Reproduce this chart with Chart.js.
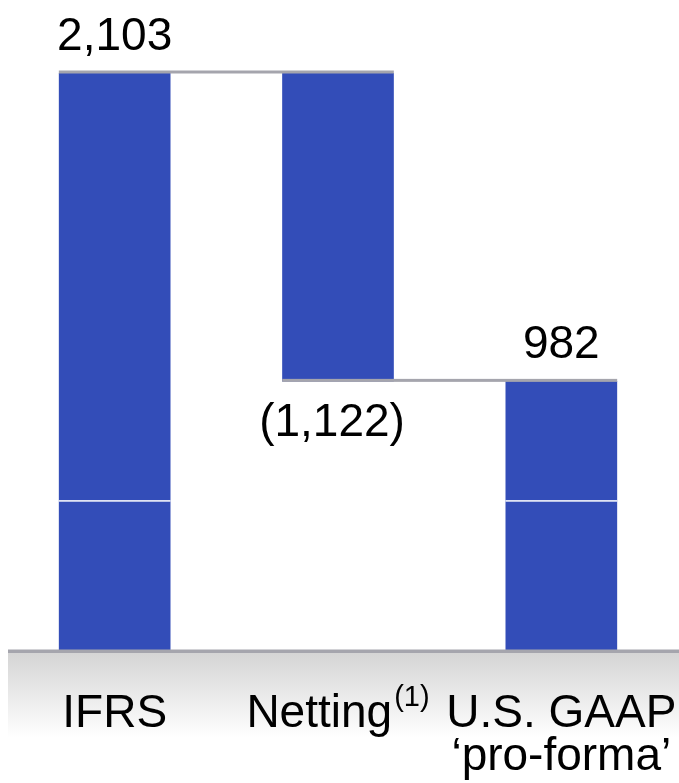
<!DOCTYPE html>
<html>
<head>
<meta charset="utf-8">
<script src="https://cdn.jsdelivr.net/npm/chart.js@4.4.0/dist/chart.umd.min.js"></script>
<style>
  html, body { margin: 0; padding: 0; background: #fff; }
  canvas { display: block; }
</style>
</head>
<body>
<canvas id="waterfall" width="679" height="783"></canvas>
<script>
// data
const categories = ['IFRS', 'Netting', 'U.S. GAAP'];
const categoryNotes = ['', '(1)', ''];
const categorySubLines = ['', '', '\u2018pro-forma\u2019'];
const changes = [2103, -1122, 982];      // last one is the resulting total
const isTotal = [true, false, true];
const valueLabels = ['2,103', '(1,122)', '982'];
const whiteLineValue = 547;

// build floating bars from the running total
const floats = [];
let running = 0;
changes.forEach((v, i) => {
    if (isTotal[i]) {
        floats.push([0, v]);
        running = v;
    } else {
        floats.push([running + v, running]);
        running += v;
    }
});

const BLUE = '#334db8';
const GREY_LINE = '#a5a5ad';
const FONT = '"Liberation Sans", Arial, Helvetica, sans-serif';

const waterfallDecor = {
    id: 'waterfallDecor',
    beforeDatasetsDraw(chart) {
        const ctx = chart.ctx;
        const y = chart.scales.y;
        const base = y.getPixelForValue(0);
        // grey floor band
        const grad = ctx.createLinearGradient(0, base + 2, 0, base + 86);
        grad.addColorStop(0, '#d5d5d5');
        grad.addColorStop(1, '#ffffff');
        ctx.save();
        ctx.fillStyle = grad;
        ctx.fillRect(8, base + 2, chart.width - 8, 84);
        ctx.restore();
    },
    afterDatasetsDraw(chart) {
        const ctx = chart.ctx;
        const y = chart.scales.y;
        const bars = chart.getDatasetMeta(0).data;
        const base = y.getPixelForValue(0);
        ctx.save();

        // thin white line across the bars
        const wy = y.getPixelForValue(whiteLineValue);
        ctx.fillStyle = '#ffffff';
        bars.forEach((b, i) => {
            const lo = Math.min(...floats[i]), hi = Math.max(...floats[i]);
            if (whiteLineValue > lo && whiteLineValue < hi) {
                ctx.fillRect(b.x - b.width / 2, wy - 0.5, b.width, 1.5);
            }
        });

        // connectors between bars
        ctx.fillStyle = GREY_LINE;
        for (let i = 0; i < bars.length - 1; i++) {
            const level = floats[i][isTotal[i] ? 1 : 0];
            const ly = y.getPixelForValue(level);
            const x0 = bars[i].x - bars[i].width / 2;
            const x1 = bars[i + 1].x + bars[i + 1].width / 2;
            ctx.fillRect(x0, ly - 2.5, x1 - x0, 3);
        }

        // floor line
        ctx.fillRect(8, base - 1.5, chart.width - 8, 3.5);

        // value labels
        ctx.fillStyle = '#000';
        ctx.font = '46px ' + FONT;
        ctx.textAlign = 'center';
        ctx.textBaseline = 'alphabetic';
        bars.forEach((b, i) => {
            if (changes[i] >= 0) {
                const top = y.getPixelForValue(Math.max(...floats[i]));
                ctx.fillText(valueLabels[i], b.x, top - 23);
            } else {
                const bottom = y.getPixelForValue(Math.min(...floats[i]));
                ctx.fillText(valueLabels[i], b.x - 6, bottom + 55);
            }
        });

        // category labels
        const x = chart.scales.x;
        categories.forEach((c, i) => {
            const cx = x.getPixelForValue(i);
            const ly = base + 76;
            ctx.font = '46px ' + FONT;
            const w = ctx.measureText(c).width;
            let noteW = 0;
            if (categoryNotes[i]) {
                ctx.font = '29px ' + FONT;
                noteW = ctx.measureText(categoryNotes[i]).width + 2;
            }
            const start = cx - (w + noteW) / 2;
            ctx.textAlign = 'left';
            ctx.font = '46px ' + FONT;
            ctx.fillText(c, start, ly);
            if (categoryNotes[i]) {
                ctx.font = '29px ' + FONT;
                ctx.fillText(categoryNotes[i], start + w + 2, ly - 21);
            }
            if (categorySubLines[i]) {
                ctx.font = '46px ' + FONT;
                ctx.textAlign = 'center';
                ctx.fillText(categorySubLines[i], cx, ly + 43);
            }
        });
        ctx.restore();
    }
};

const chart = new Chart(document.getElementById('waterfall').getContext('2d'), {
    type: 'bar',
    data: {
        labels: categories,
        datasets: [{
            data: floats,
            backgroundColor: BLUE,
            borderWidth: 0,
            borderSkipped: false,
            barPercentage: 0.5,
            categoryPercentage: 1.0
        }]
    },
    options: {
        responsive: false,
        animation: false,
        layout: { padding: { top: 73, bottom: 132, left: 3, right: 6 } },
        plugins: {
            legend: { display: false },
            tooltip: { enabled: false }
        },
        scales: {
            x: { display: false, offset: true },
            y: { display: false, min: 0, max: changes[0] }
        }
    },
    plugins: [waterfallDecor]
});
</script>
</body>
</html>
